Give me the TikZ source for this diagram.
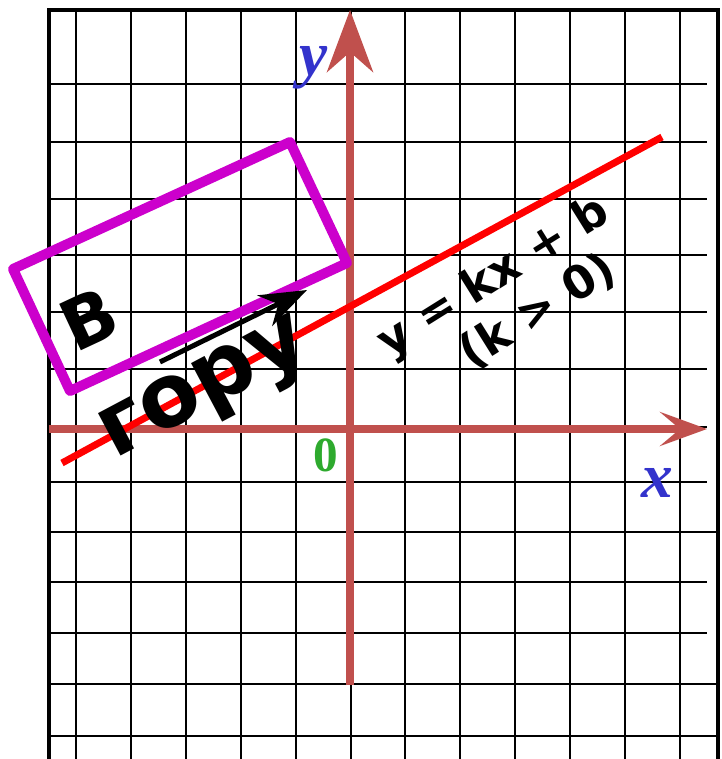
\documentclass[tikz,border=0pt]{standalone}
\usepackage{fontspec}
\newfontfamily\labfont{DejaVu Sans}
\newfontfamily\axfont{Liberation Serif}
\usetikzlibrary{arrows.meta}
\definecolor{axisred}{HTML}{C0504D}
\definecolor{boxmag}{HTML}{CC00CC}
\definecolor{axblue}{HTML}{3333CC}
\definecolor{zerogreen}{HTML}{2EAA2E}

\begin{document}
\begin{tikzpicture}[x=0.02cm, y=-0.02cm,
  grd/.style={line width=0.04cm, black},
  frm/.style={line width=0.08cm, black},
  axis/.style={axisred, line width=0.16cm},
  lbl/.style={inner sep=0pt, font=\labfont\bfseries\fontsize{26}{26}\selectfont},
  axl/.style={inner sep=0pt, text=axblue, font=\axfont\bfseries\itshape\fontsize{36}{36}\selectfont}]

  \useasboundingbox (0,0) rectangle (721,759);

  % grid
  \foreach \gx in {76,131,186,241,296,351,405,460,515,570,625,680}
    \draw[grd] (\gx,10) -- (\gx,759);
  \foreach \gy/\ge in {84/707,142/707,199/707,255/707,312/707,369/707,427/707,
                       482/707,532/718,582/707,633/707,684/718,736/718}
    \draw[grd] (49,\gy) -- (\ge,\gy);

  % frame
  \draw[frm] (49,759) -- (49,10) -- (718,10) -- (718,759);

  % axes
  \draw[axis, -{Stealth[length=1.24cm, width=0.92cm, inset=0.4cm]}] (350,685) -- (350,10);
  \draw[axis, -{Stealth[length=0.94cm, width=0.68cm, inset=0.4cm]}] (49,429) -- (707,429);

  % the line y = kx + b
  \coordinate (lnA) at (62,463);
  \coordinate (lnB) at (662,137);
  \draw[red, line width=0.14cm] (lnA) -- (lnB);

  % box round "B"
  \draw[boxmag, line width=0.2cm, line join=round]
    (13,269) -- (290,142) -- (347,263) -- (70,391) -- cycle;

  % uphill arrow
  \coordinate (upA) at (160,362);
  \coordinate (upB) at (307,290);
  \draw[black, line width=0.1cm, -{Stealth[length=0.94cm, width=0.68cm, inset=0.3cm]}] (upA) -- (upB);

  % words
  \node[lbl, rotate=25, font=\labfont\bfseries\fontsize{40}{40}\selectfont] (letB) at (89,319) {В};
  \node[lbl, rotate=28, font=\labfont\bfseries\fontsize{50}{50}\selectfont] (word) at (207,393) {гору};
  \node[lbl, rotate=32] (eqn) at (494,278) {y = kx + b};
  \node[lbl, rotate=32] (cond) at (538,311) {(k > 0)};

  % axis labels
  \node[axl] (ylab) at (314,68) {y};
  \node[axl] (xlab) at (657,483) {x};
  \node[inner sep=0pt, text=zerogreen, font=\axfont\bfseries\fontsize{28}{28}\selectfont] (zero) at (326,455) {0};

\end{tikzpicture}
\end{document}
